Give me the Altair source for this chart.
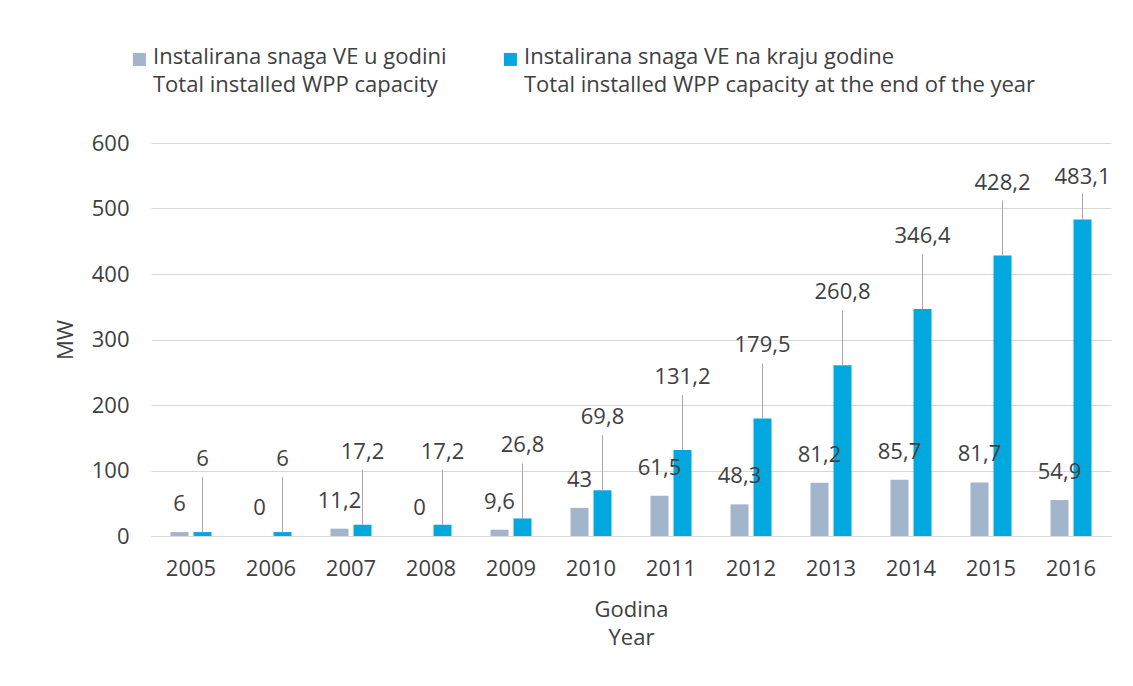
import altair as alt
import pandas as pd

years = ["2005", "2006", "2007", "2008", "2009", "2010",
         "2011", "2012", "2013", "2014", "2015", "2016"]
series_hr = ["Instalirana snaga VE u godini", "Instalirana snaga VE na kraju godine"]
series_en = ["Total installed WPP capacity", "Total installed WPP capacity at the end of the year"]
installed_in_year = [6, 0, 11.2, 0, 9.6, 43, 61.5, 48.3, 81.2, 85.7, 81.7, 54.9]
installed_end_year = [6, 6, 17.2, 17.2, 26.8, 69.8, 131.2, 179.5, 260.8, 346.4, 428.2, 483.1]
y_ticks = [0, 100, 200, 300, 400, 500, 600]
colors = ["#a4b4cb", "#00a8de"]

rows = []
for i, yr in enumerate(years):
    rows.append({"year": yr, "series": series_hr[0], "value": installed_in_year[i]})
    rows.append({"year": yr, "series": series_hr[1], "value": installed_end_year[i]})
df = pd.DataFrame(rows)
df["label"] = df["value"].map(lambda v: f"{v:g}".replace(".", ","))

FONT = "Open Sans"
TXT = "#404040"
FS = 22

label_expr = (
    f"datum.label == '{series_hr[0]}' ? ['{series_hr[0]}', '{series_en[0]}'] : "
    f"['{series_hr[1]}', '{series_en[1]}']"
)

x_enc = alt.X(
    "year:N", sort=years,
    scale=alt.Scale(paddingInner=0.4875, paddingOuter=0.24375),
    axis=alt.Axis(title=["Godina", "Year"], labelAngle=0, ticks=False,
                  domainColor="#d9d9d9", labelPadding=22, labelFontSize=FS,
                  labelColor=TXT, titleFontSize=FS, titleFontWeight="normal",
                  titleColor=TXT, titleLineHeight=28, titlePadding=20),
)
xoff_enc = alt.XOffset("series:N", sort=series_hr,
                       scale=alt.Scale(domain=series_hr, paddingInner=0.217, paddingOuter=0))
y_enc = alt.Y(
    "value:Q", scale=alt.Scale(domain=[0, 600]),
    axis=alt.Axis(values=y_ticks, title="MW", domain=False, ticks=False,
                  gridColor="#d9d9d9", labelPadding=22, labelFontSize=FS,
                  labelColor=TXT, titleFontSize=FS, titleFontWeight="normal",
                  titleColor=TXT, titlePadding=14),
)
color_enc = alt.Color(
    "series:N",
    scale=alt.Scale(domain=series_hr, range=colors),
    legend=alt.Legend(
        orient="none", legendX=-20, legendY=-90, direction="horizontal",
        title=None, symbolType="M-1.4,-1.7H0.6V0.3H-1.4Z", symbolSize=169,
        symbolStrokeWidth=0, labelFontSize=FS, labelColor=TXT, labelLimit=800,
        labelOffset=0, columnPadding=55, labelBaseline="alphabetic",
        labelExpr=label_expr,
    ),
)

base = alt.Chart(df)

bars = base.mark_bar().encode(x=x_enc, xOffset=xoff_enc, y=y_enc, color=color_enc)

gray_labels = base.transform_filter(
    alt.datum.series == series_hr[0]
).mark_text(dy=-28, fontSize=FS, color=TXT, baseline="middle").encode(
    x=alt.X("year:N", sort=years), xOffset="series:N", y="value:Q", text="label:N"
)

blue = base.transform_filter(alt.datum.series == series_hr[1])
blue_low = blue.transform_filter(alt.datum.value < 450)
blue_high = blue.transform_filter(alt.datum.value >= 450)

rules_low = blue_low.mark_rule(color="#a6a6a6", strokeWidth=1, y2Offset=-55).encode(
    x=alt.X("year:N", sort=years), xOffset="series:N", y="value:Q", y2="value:Q"
)
rules_high = blue_high.mark_rule(color="#a6a6a6", strokeWidth=1, y2Offset=-26).encode(
    x=alt.X("year:N", sort=years), xOffset="series:N", y="value:Q", y2="value:Q"
)
labels_low = blue_low.mark_text(dy=-73, fontSize=FS, color=TXT, baseline="middle").encode(
    x=alt.X("year:N", sort=years), xOffset="series:N", y="value:Q", text="label:N"
)
labels_high = blue_high.mark_text(dy=-43, fontSize=FS, color=TXT, baseline="middle").encode(
    x=alt.X("year:N", sort=years), xOffset="series:N", y="value:Q", text="label:N"
)

chart = alt.layer(
    bars, rules_low, rules_high, gray_labels, labels_low, labels_high
).properties(
    width=960, height=393,
    padding={"left": 46, "top": 45, "right": 10, "bottom": 10},
).configure(
    font=FONT,
    style={"guide-label": {"lineHeight": 28}},
).configure_view(stroke=None)

chart.save("out.html", embed_options={"renderer": "svg", "actions": False})
